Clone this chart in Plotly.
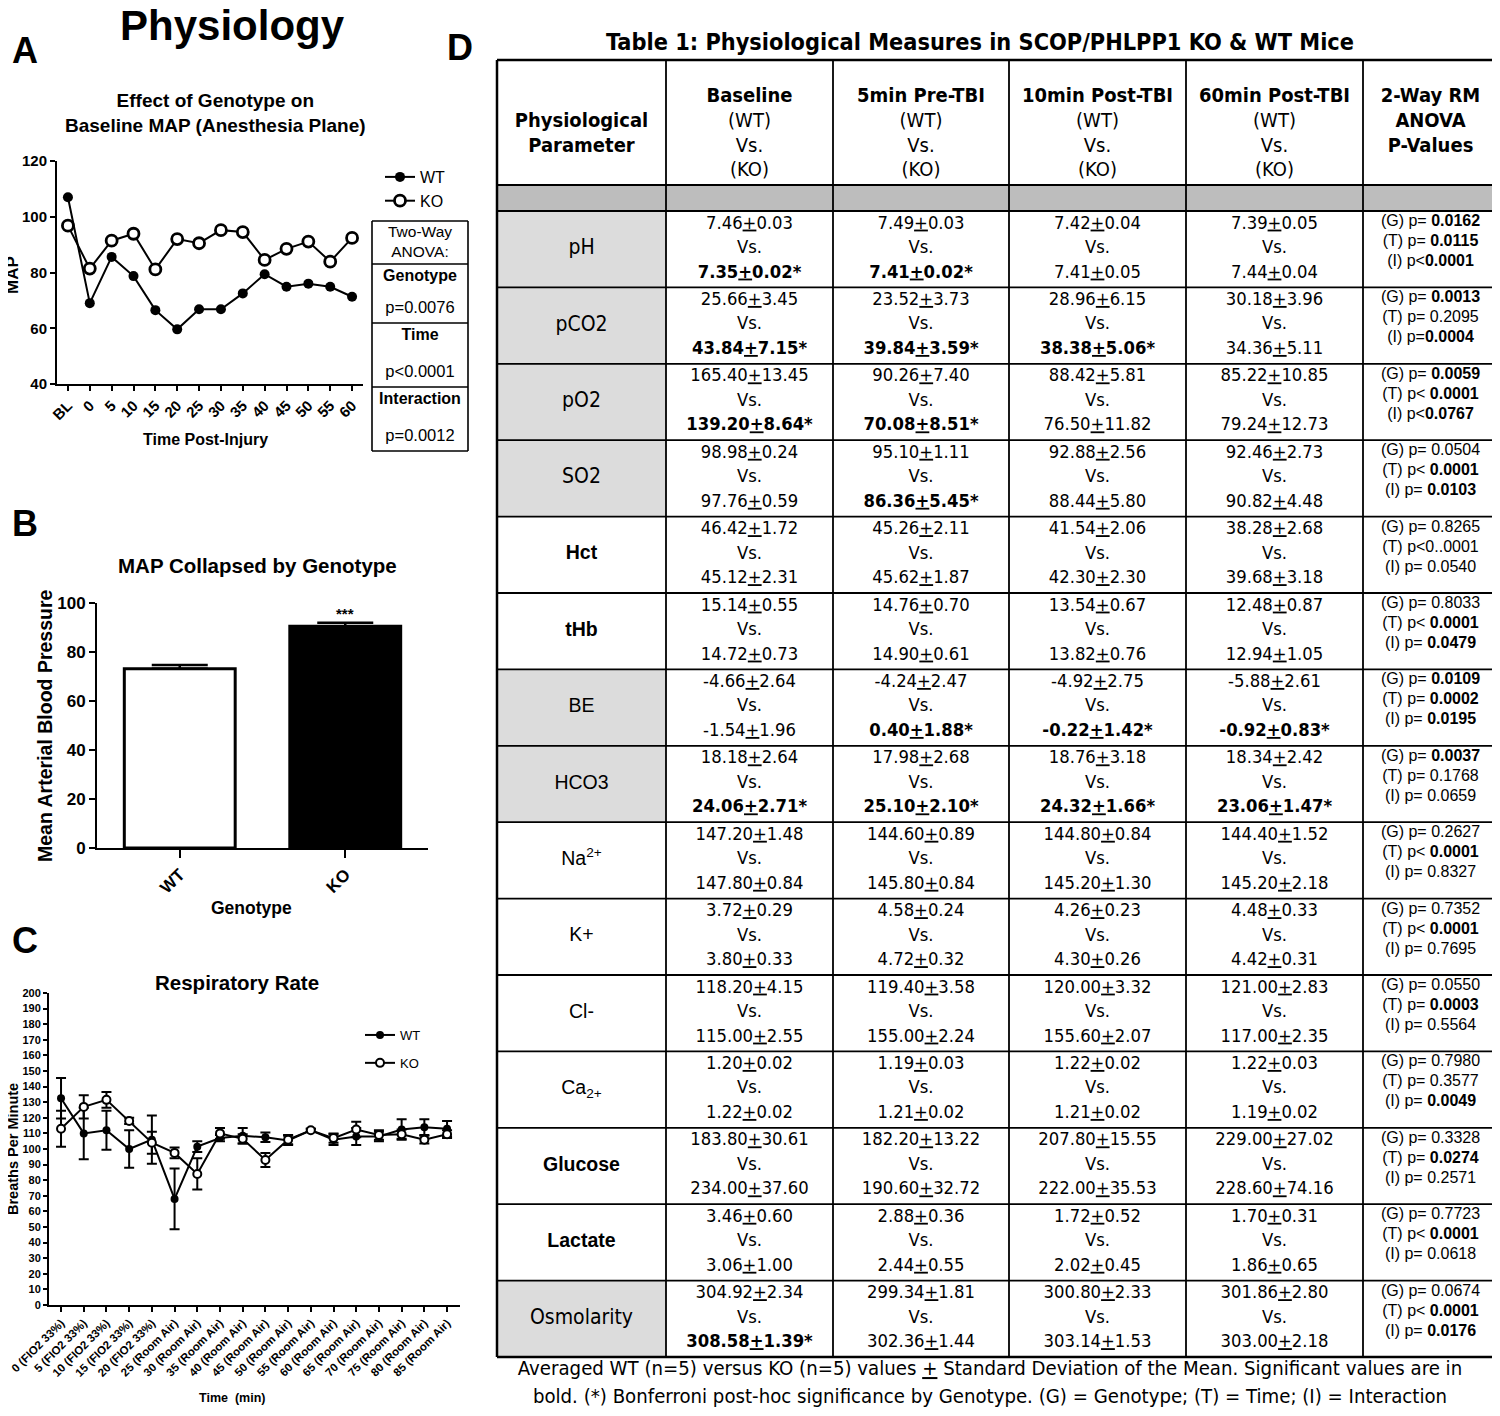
import plotly.graph_objects as go

W, H = 1500, 1416
OFF = 8  # the page body margin shifts the figure; compensate so the picture lines up
ARIAL = "Liberation Sans, Arial, sans-serif"
NARROW = "Liberation Sans Narrow, Arial Narrow, DejaVu Sans Condensed, sans-serif"

# ---------------- Panel A data ----------------
a_times = ["BL", "0", "5", "10", "15", "20", "25", "30", "35", "40", "45", "50", "55", "60"]
a_wt = [107.0, 69.0, 85.6, 78.7, 66.5, 59.6, 66.8, 66.8, 72.5, 79.4, 74.9, 76.0, 74.9, 71.3]
a_ko = [96.8, 81.4, 91.4, 93.9, 81.1, 92.0, 90.5, 95.2, 94.5, 84.5, 88.5, 91.1, 83.9, 92.4]
anova_labels = ["Genotype", "Time", "Interaction"]
anova_p = ["p=0.0076", "p<0.0001", "p=0.0012"]

# ---------------- Panel B data ----------------
b_groups = ["WT", "KO"]
b_means = [73.2, 90.5]
b_sem = [1.5, 1.4]

# ---------------- Panel C data ----------------
c_times = ["0 (FIO2 33%)", "5 (FIO2 33%)", "10 (FIO2 33%)", "15 (FIO2 33%)", "20 (FIO2 33%)",
           "25 (Room Air)", "30 (Room Air)", "35 (Room Air)", "40 (Room Air)", "45 (Room Air)",
           "50 (Room Air)", "55 (Room Air)", "60 (Room Air)", "65 (Room Air)", "70 (Room Air)",
           "75 (Room Air)", "80 (Room Air)", "85 (Room Air)"]
c_wt = [132.5, 110.0, 112.0, 100.0, 106.0, 68.0, 101.5, 107.0, 108.5, 107.5, 105.5, 112.0, 106.0, 108.0, 108.0, 112.5, 114.0, 113.0]
c_wt_err = [13.0, 16.5, 12.5, 12.0, 15.4, 19.5, 3.5, 2.0, 5.0, 3.0, 3.0, 1.0, 3.5, 5.5, 3.0, 6.5, 5.0, 5.0]
c_ko = [113.0, 127.0, 131.5, 118.0, 104.0, 97.5, 84.0, 110.0, 106.5, 93.0, 106.0, 112.0, 107.0, 112.5, 109.0, 109.5, 106.0, 109.5]
c_ko_err = [11.5, 7.5, 5.0, 2.0, 7.0, 3.5, 10.0, 3.5, 3.0, 4.5, 3.0, 1.0, 3.0, 5.0, 3.0, 3.0, 2.5, 2.5]

# ---------------- Table (panel D) data ----------------
table_title = "Table 1: Physiological Measures in SCOP/PHLPP1 KO & WT Mice"
col_headers = ["Baseline", "5min Pre-TBI", "10min Post-TBI", "60min Post-TBI"]
params = ["pH", "pCO2", "pO2", "SO2", "Hct", "tHb", "BE", "HCO3", "Na<sup>2+</sup>", "K+", "Cl-",
          "Ca<sub>2+</sub>", "Glucose", "Lactate", "Osmolarity"]
param_style = ["narrow", "narrow", "narrow", "narrow", "bold", "bold", "plain", "plain", "plain", "plain",
               "plain", "plain", "bold", "bold", "narrow"]
param_shaded = [True, True, True, True, False, False, True, True, False, False, False, False, False, False, True]

baseline_wt = ["7.46+0.03", "25.66+3.45", "165.40+13.45", "98.98+0.24", "46.42+1.72", "15.14+0.55",
               "-4.66+2.64", "18.18+2.64", "147.20+1.48", "3.72+0.29", "118.20+4.15", "1.20+0.02",
               "183.80+30.61", "3.46+0.60", "304.92+2.34"]
baseline_ko = ["7.35+0.02*", "43.84+7.15*", "139.20+8.64*", "97.76+0.59", "45.12+2.31", "14.72+0.73",
               "-1.54+1.96", "24.06+2.71*", "147.80+0.84", "3.80+0.33", "115.00+2.55", "1.22+0.02",
               "234.00+37.60", "3.06+1.00", "308.58+1.39*"]
pre5_wt = ["7.49+0.03", "23.52+3.73", "90.26+7.40", "95.10+1.11", "45.26+2.11", "14.76+0.70",
           "-4.24+2.47", "17.98+2.68", "144.60+0.89", "4.58+0.24", "119.40+3.58", "1.19+0.03",
           "182.20+13.22", "2.88+0.36", "299.34+1.81"]
pre5_ko = ["7.41+0.02*", "39.84+3.59*", "70.08+8.51*", "86.36+5.45*", "45.62+1.87", "14.90+0.61",
           "0.40+1.88*", "25.10+2.10*", "145.80+0.84", "4.72+0.32", "155.00+2.24", "1.21+0.02",
           "190.60+32.72", "2.44+0.55", "302.36+1.44"]
post10_wt = ["7.42+0.04", "28.96+6.15", "88.42+5.81", "92.88+2.56", "41.54+2.06", "13.54+0.67",
             "-4.92+2.75", "18.76+3.18", "144.80+0.84", "4.26+0.23", "120.00+3.32", "1.22+0.02",
             "207.80+15.55", "1.72+0.52", "300.80+2.33"]
post10_ko = ["7.41+0.05", "38.38+5.06*", "76.50+11.82", "88.44+5.80", "42.30+2.30", "13.82+0.76",
             "-0.22+1.42*", "24.32+1.66*", "145.20+1.30", "4.30+0.26", "155.60+2.07", "1.21+0.02",
             "222.00+35.53", "2.02+0.45", "303.14+1.53"]
post60_wt = ["7.39+0.05", "30.18+3.96", "85.22+10.85", "92.46+2.73", "38.28+2.68", "12.48+0.87",
             "-5.88+2.61", "18.34+2.42", "144.40+1.52", "4.48+0.33", "121.00+2.83", "1.22+0.03",
             "229.00+27.02", "1.70+0.31", "301.86+2.80"]
post60_ko = ["7.44+0.04", "34.36+5.11", "79.24+12.73", "90.82+4.48", "39.68+3.18", "12.94+1.05",
             "-0.92+0.83*", "23.06+1.47*", "145.20+2.18", "4.42+0.31", "117.00+2.35", "1.19+0.02",
             "228.60+74.16", "1.86+0.65", "303.00+2.18"]

p_genotype = ["= <b>0.0162</b>", "= <b>0.0013</b>", "= <b>0.0059</b>", "= 0.0504", "= 0.8265", "= 0.8033",
              "= <b>0.0109</b>", "= <b>0.0037</b>", "= 0.2627", "= 0.7352", "= 0.0550", "= 0.7980",
              "= 0.3328", "= 0.7723", "= 0.0674"]
p_time = ["= <b>0.0115</b>", "= 0.2095", "< <b>0.0001</b>", "< <b>0.0001</b>", "<0..0001", "< <b>0.0001</b>",
          "= <b>0.0002</b>", "= 0.1768", "< <b>0.0001</b>", "< <b>0.0001</b>", "= <b>0.0003</b>", "= 0.3577",
          "= <b>0.0274</b>", "< <b>0.0001</b>", "< <b>0.0001</b>"]
p_inter = ["<<b>0.0001</b>", "=<b>0.0004</b>", "<<b>0.0767</b>", "= <b>0.0103</b>", "= 0.0540", "= <b>0.0479</b>",
           "= <b>0.0195</b>", "= 0.0659", "= 0.8327", "= 0.7695", "= 0.5564", "= <b>0.0049</b>",
           "= 0.2571", "= 0.0618", "= <b>0.0176</b>"]
caption = ["Averaged WT (n=5) versus KO (n=5) values <u>+</u> Standard Deviation of the Mean. Significant values are in",
           "bold. (*) Bonferroni post-hoc significance by Genotype. (G) = Genotype; (T) = Time; (I) = Interaction"]

# ---------------- helpers ----------------
def px(x):
    return (x - OFF) / W


def py(y):
    return 1 - (y - OFF) / H


fig = go.Figure()

# ---------------- Panel A ----------------
xa = list(range(len(a_times)))
fig.add_trace(go.Scatter(x=xa, y=a_wt, name="WT", mode="lines+markers", xaxis="x", yaxis="y",
                         line=dict(color="black", width=2),
                         marker=dict(symbol="circle", size=10, color="black"), legend="legend"))
fig.add_trace(go.Scatter(x=xa, y=a_ko, name="KO", mode="lines+markers", xaxis="x", yaxis="y",
                         line=dict(color="black", width=2),
                         marker=dict(symbol="circle", size=11, color="white", line=dict(color="black", width=2.8)),
                         legend="legend"))

# ---------------- Panel B ----------------
fig.add_trace(go.Bar(x=b_groups, y=b_means, xaxis="x2", yaxis="y2", showlegend=False,
                     marker=dict(color=["white", "black"], line=dict(color="black", width=3)),
                     error_y=dict(type="data", symmetric=False, array=b_sem, arrayminus=[0, 0],
                                  color="black", thickness=2.5, width=28)))

# ---------------- Panel C ----------------
xc = list(range(len(c_times)))
fig.add_trace(go.Scatter(x=xc, y=c_wt, name="WT", mode="lines+markers", xaxis="x3", yaxis="y3",
                         line=dict(color="black", width=2),
                         marker=dict(symbol="circle", size=8, color="black"),
                         error_y=dict(type="data", array=c_wt_err, color="black", thickness=2, width=5),
                         legend="legend2", legendgroup="c_wt"))
fig.add_trace(go.Scatter(x=xc, y=c_ko, name="KO", mode="lines+markers", xaxis="x3", yaxis="y3",
                         line=dict(color="black", width=2),
                         marker=dict(symbol="circle", size=8, color="white", line=dict(color="black", width=2)),
                         error_y=dict(type="data", array=c_ko_err, color="black", thickness=2, width=5),
                         legend="legend2", legendgroup="c_ko"))

# ---------------- Canvas axis (x4/y4) for table & boxes ----------------
def add_text(xs, ys, texts, size, family, weight="normal"):
    fig.add_trace(go.Scatter(x=xs, y=ys, text=texts, mode="text", xaxis="x4", yaxis="y4",
                             textposition="middle center", showlegend=False, hoverinfo="skip",
                             textfont=dict(size=size, family=family, color="black", weight=weight)))

shapes = []


def hline(x0, x1, y, w=1.8):
    shapes.append(dict(type="line", xref="x4", yref="y4", x0=x0, x1=x1, y0=y, y1=y,
                       line=dict(color="black", width=w), layer="above"))


def vline(x, y0, y1, w=1.8):
    shapes.append(dict(type="line", xref="x4", yref="y4", x0=x, x1=x, y0=y0, y1=y1,
                       line=dict(color="black", width=w), layer="above"))


def rect(x0, x1, y0, y1, color):
    shapes.append(dict(type="rect", xref="x4", yref="y4", x0=x0, x1=x1, y0=y0, y1=y1,
                       fillcolor=color, line=dict(width=0), layer="below"))


# ANOVA box of panel A
box_l, box_r = 372, 468
box_rows = [221, 264, 323, 387, 451]
for yb in box_rows:
    hline(box_l, box_r, yb, 1.6)
vline(box_l, box_rows[0], box_rows[-1], 1.6)
vline(box_r, box_rows[0], box_rows[-1], 1.6)
bx = (box_l + box_r) / 2
add_text([bx, bx], [box_rows[0] + 12, box_rows[0] + 32], ["Two-Way", "ANOVA:"], 15.5, ARIAL)
lab_y, p_y = [], []
for i in range(3):
    top, bot = box_rows[i + 1], box_rows[i + 2]
    lab_y.append(top + 13)
    p_y.append(bot - 14)
add_text([bx] * 3, lab_y, anova_labels, 16, ARIAL, "bold")
add_text([bx] * 3, p_y, anova_p, 16.5, ARIAL)

# Table geometry
col_b = [497, 666, 833, 1009, 1186, 1363, 1498]
t_top, t_head_bot, t_gray_bot = 60, 185, 211
row_h = 76.4
n_rows = len(params)
t_bot = t_gray_bot + row_h * n_rows
col_c = [(col_b[i] + col_b[i + 1]) / 2 for i in range(len(col_b) - 1)]

rect(col_b[0], col_b[-1], t_head_bot, t_gray_bot, "#bdbdbd")
for r in range(n_rows):
    if param_shaded[r]:
        rect(col_b[0], col_b[1], t_gray_bot + r * row_h, t_gray_bot + (r + 1) * row_h, "#dcdcdc")

hline(col_b[0], col_b[-1], t_top, 2.5)
hline(col_b[0], col_b[-1], t_head_bot, 1.8)
hline(col_b[0], col_b[-1], t_gray_bot, 1.8)
for r in range(1, n_rows):
    hline(col_b[0], col_b[-1], t_gray_bot + r * row_h, 1.8)
hline(col_b[0], col_b[-1], t_bot, 2.5)
for i, xb in enumerate(col_b):
    vline(xb, t_top, t_bot, 2.5 if i in (0, len(col_b) - 1) else 1.8)

# Header texts
hx, hy, ht = [], [], []
head_lines = [97, 122, 147, 171]
for j, name in enumerate(col_headers):
    for k, s in enumerate(["<b>%s</b>" % name, "(WT)", "Vs.", "(KO)"]):
        hx.append(col_c[j + 1]); hy.append(head_lines[k]); ht.append(s)
for k, s in enumerate(["<b>Physiological</b>", "<b>Parameter</b>"]):
    hx.append(col_c[0]); hy.append(head_lines[k + 1]); ht.append(s)
for k, s in enumerate(["<b>2-Way RM</b>", "<b>ANOVA</b>", "<b>P-Values</b>"]):
    hx.append(col_c[5]); hy.append(head_lines[k]); ht.append(s)
add_text(hx, hy, ht, 20, NARROW)


def fmt(v):
    s = v.replace("+", "<u>+</u>")
    return "<b>%s</b>" % s if v.endswith("*") else s


data_cols = [(baseline_wt, baseline_ko), (pre5_wt, pre5_ko), (post10_wt, post10_ko), (post60_wt, post60_ko)]
dx, dy, dt = [], [], []
for j, (wt, ko) in enumerate(data_cols):
    for r in range(n_rows):
        top = t_gray_bot + r * row_h
        for k, s in enumerate([fmt(wt[r]), "Vs.", fmt(ko[r])]):
            dx.append(col_c[j + 1]); dy.append(top + 13 + k * 24.5); dt.append(s)
add_text(dx, dy, dt, 18.3, NARROW)

# Parameter names
for style, fam, wgt in [("narrow", NARROW, "normal"), ("bold", ARIAL, "bold"), ("plain", ARIAL, "normal")]:
    xs, ys, ts = [], [], []
    for r in range(n_rows):
        if param_style[r] == style:
            xs.append(col_c[0]); ys.append(t_gray_bot + r * row_h + 38); ts.append(params[r])
    add_text(xs, ys, ts, 21 if style == "narrow" else 19.5, fam, wgt)

# P values
pvx, pvy, pvt = [], [], []
for r in range(n_rows):
    top = t_gray_bot + r * row_h
    for k, s in enumerate(["(G) p" + p_genotype[r], "(T) p" + p_time[r], "(I) p" + p_inter[r]]):
        pvx.append(col_c[5]); pvy.append(top + 11 + k * 20); pvt.append(s)
add_text(pvx, pvy, pvt, 16, ARIAL)

# Title & caption
add_text([980], [44], ["<b>%s</b>" % table_title], 23.3, NARROW)
add_text([990, 990], [1370, 1398], caption, 20.2, NARROW)

# ---------------- Annotations ----------------
ann = []


def note(x, y, text, size, bold=True, angle=0, family=ARIAL):
    ann.append(dict(x=px(x), y=py(y), xref="paper", yref="paper", text=text, showarrow=False,
                    xanchor="center", yanchor="middle", textangle=angle,
                    font=dict(size=size, family=family, color="black", weight="bold" if bold else "normal")))


note(232, 26, "Physiology", 42)
note(25, 50, "A", 36)
note(25, 523, "B", 36)
note(25, 940, "C", 36)
note(460, 48, "D", 36)
note(215, 113, "Effect of Genotype on<br>Baseline MAP (Anesthesia Plane)", 19)
note(12, 275, "MAP", 17, angle=-90)
note(205, 439, "Time Post-Injury", 16)
note(257, 565, "MAP Collapsed by Genotype", 20.5)
note(45, 726, "Mean Arterial Blood Pressure", 19.5, angle=-90)
note(252, 908, "Genotype", 17.5)
note(237, 982, "Respiratory Rate", 20.5)
note(13, 1149, "Breaths Per Minute", 14.5, angle=-90)
note(232, 1398, "Time  (min)", 12.5)
ann.append(dict(x="KO", y=b_means[1] + b_sem[1] + 4, xref="x2", yref="y2", text="***", showarrow=False,
                font=dict(size=15, family=ARIAL, color="black", weight="bold")))

axis_common = dict(showline=True, linecolor="black", linewidth=2, ticks="outside", tickcolor="black",
                   tickwidth=2, showgrid=False, zeroline=False, automargin=False, ticklabeloverflow="allow")

fig.update_layout(
    template="none",
    width=W, height=H, margin=dict(l=0, r=0, t=0, b=0, pad=0, autoexpand=False),
    paper_bgcolor="white", plot_bgcolor="rgba(0,0,0,0)",
    font=dict(family=ARIAL, color="black"),
    shapes=shapes, annotations=ann,
    bargap=0.33,
    xaxis=dict(domain=[px(57), px(363)], anchor="y", range=[-0.5, 13.5], tickvals=xa, ticktext=a_times,
               tickangle=-45, ticklen=5, tickfont=dict(size=15, weight="bold"), **axis_common),
    yaxis=dict(domain=[py(384), py(161)], anchor="x", range=[40, 120], dtick=20, ticklen=5,
               tickfont=dict(size=15, weight="bold"), **axis_common),
    xaxis2=dict(domain=[px(97), px(428)], anchor="y2", range=[-0.5, 1.5], tickangle=-45, ticklen=8,
                tickfont=dict(size=17, weight="bold"), **axis_common),
    yaxis2=dict(domain=[py(848), py(603)], anchor="x2", range=[0, 100], dtick=20, ticklen=6,
                tickfont=dict(size=17, weight="bold"), **axis_common),
    xaxis3=dict(domain=[px(49), px(460)], anchor="y3", range=[-0.53, 17.57], tickvals=xc, ticktext=c_times,
                tickangle=-45, ticklen=5, tickfont=dict(size=11.5, weight="bold"), **axis_common),
    yaxis3=dict(domain=[py(1305), py(993)], anchor="x3", range=[0, 200], dtick=10, ticklen=4,
                tickfont=dict(size=11, weight="bold"), **axis_common),
    xaxis4=dict(domain=[0, 1], anchor="y4", range=[OFF, W + OFF], visible=False, fixedrange=True, automargin=False),
    yaxis4=dict(domain=[0, 1], anchor="x4", range=[H + OFF, OFF], visible=False, fixedrange=True, automargin=False),
    legend=dict(x=px(380), y=py(160), xanchor="left", yanchor="top", bgcolor="rgba(0,0,0,0)",
                font=dict(size=16, family=ARIAL), itemwidth=30, tracegroupgap=0),
    legend2=dict(x=px(360), y=py(1020), xanchor="left", yanchor="top", bgcolor="rgba(0,0,0,0)",
                 font=dict(size=13, family=ARIAL), itemwidth=30, tracegroupgap=8),
)

fig.write_html("out.html")
